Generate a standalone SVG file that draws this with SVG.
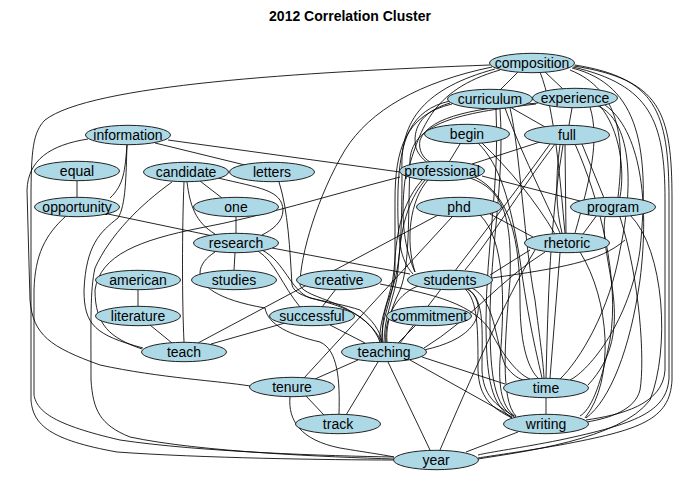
<svg xmlns="http://www.w3.org/2000/svg" width="700" height="500" viewBox="0 0 700 500">
<style>
.e{fill:none;stroke:#000;stroke-width:0.85}
.n ellipse{fill:#add8e6;stroke:#222;stroke-width:1}
.n text{font-family:"Liberation Sans",Arial,sans-serif;font-size:14px;text-anchor:middle;fill:#000}
.title{font-family:"Liberation Sans",Arial,sans-serif;font-size:14px;font-weight:bold;text-anchor:middle}
</style>
<rect width="700" height="500" fill="#fff"/>
<text class="title" x="350" y="21">2012 Correlation Cluster</text>
<g id="edges">
<path class="e" d="M490,65 C300,72 90,85 45,120 C33,132 31,150 31,200 L31,400 C33,425 50,440 117,452 C200,458 330,460 394,460"/>
<path class="e" d="M66,216 C45,235 35,255 34,290 L34,395 C37,412 55,425 120,440 C200,452 330,456 394,457"/>
<path class="e" d="M88,139 C50,145 28,160 27,190 L30,300 C33,335 50,347 100,365 C160,378 220,381 250,386"/>
<path class="e" d="M127,145 C126,175 126,205 118,218 C100,232 86,245 84,290 C84,325 95,335 143,348"/>
<path class="e" d="M172,182 C140,205 110,235 95,268 C90,290 91,320 91,380 C93,410 100,425 130,437 C200,452 330,457 394,459"/>
<path class="e" d="M400,177 C330,195 260,217 200,228 C140,240 100,255 95,290 C95,325 110,338 142,349"/>
<path class="e" d="M77,181 L77,197"/>
<path class="e" d="M155,143 L245,165"/>
<path class="e" d="M168,140 L400,172"/>
<path class="e" d="M127,145 C125,170 124,185 110,198"/>
<path class="e" d="M108,214 L213,236"/>
<path class="e" d="M200,181 L222,198"/>
<path class="e" d="M236,217 L236,233"/>
<path class="e" d="M235,253 L234,270"/>
<path class="e" d="M272,248 L410,274"/>
<path class="e" d="M138,290 L138,306"/>
<path class="e" d="M150,325 L172,343"/>
<path class="e" d="M285,323 L211,344"/>
<path class="e" d="M336,289 L322,307"/>
<path class="e" d="M330,325 L365,343"/>
<path class="e" d="M416,325 L398,343"/>
<path class="e" d="M358,360 L315,379"/>
<path class="e" d="M378,362 L346,415"/>
<path class="e" d="M388,362 L430,450"/>
<path class="e" d="M422,357 L505,384"/>
<path class="e" d="M410,360 L512,417"/>
<path class="e" d="M306,396 L324,415"/>
<path class="e" d="M290,397 C288,420 300,440 340,448 C370,453 385,455 394,457"/>
<path class="e" d="M546,398 L546,414"/>
<path class="e" d="M518,432 L466,452"/>
<path class="e" d="M184,182 C182,230 182,300 184,342"/>
<path class="e" d="M187,182 C190,205 195,222 215,234"/>
<path class="e" d="M218,178 C260,188 282,190 283,210 C283,222 272,230 262,235"/>
<path class="e" d="M279,182 C288,210 290,250 292,285 C296,300 330,300 360,310 C372,320 380,330 382,342"/>
<path class="e" d="M262,250 C285,262 290,290 310,298 C340,305 370,315 380,342"/>
<path class="e" d="M258,251 C275,262 282,285 300,307"/>
<path class="e" d="M215,252 C190,268 190,295 265,308 C268,325 290,335 320,342 C338,350 340,380 339,414"/>
<path class="e" d="M452,217 L304,378"/>
<path class="e" d="M440,214 L198,343"/>
<path class="e" d="M492,67 C420,82 370,110 345,150 C318,195 300,255 300,285 C305,300 360,300 382,342"/>
<path class="e" d="M380,284 C420,292 470,300 490,330 C505,360 520,375 530,379"/>
<path class="e" d="M518,72 L500,90"/>
<path class="e" d="M545,72 L563,89"/>
<path class="e" d="M510,107 L545,127"/>
<path class="e" d="M572,108 L569,125"/>
<path class="e" d="M460,144 L449,162"/>
<path class="e" d="M540,142 L472,164"/>
<path class="e" d="M482,176 L580,201"/>
<path class="e" d="M490,214 L533,237"/>
<path class="e" d="M597,215 L583,234"/>
<path class="e" d="M582,144 L604,198"/>
<path class="e" d="M540,72 C555,110 560,180 565,233"/>
<path class="e" d="M570,70 C620,90 625,140 618,197"/>
<path class="e" d="M572,68 C640,85 650,150 640,250 C630,320 590,370 570,380"/>
<path class="e" d="M573,67 C650,85 665,120 665,200 L665,370 C663,405 620,415 586,420"/>
<path class="e" d="M574,66 C660,80 672,110 672,200 L672,380 C670,420 640,430 560,445 C520,452 490,456 478,458"/>
<path class="e" d="M575,65 C655,78 669,110 669,200 L669,378 C667,412 635,424 560,440 C520,448 490,452 478,455"/>
<path class="e" d="M500,70 C430,90 420,130 405,180 C400,220 405,250 415,272"/>
<path class="e" d="M495,69 C425,88 400,120 402,170 C402,240 400,270 390,295 C382,315 382,330 383,342"/>
<path class="e" d="M450,101 C410,110 400,140 398,190 C397,240 400,260 413,274"/>
<path class="e" d="M452,104 C405,115 395,150 395,200 L395,270 C393,300 380,320 382,342"/>
<path class="e" d="M505,108 C520,150 545,200 560,233"/>
<path class="e" d="M510,108 C520,150 525,250 535,300 C540,340 543,360 544,378"/>
<path class="e" d="M500,109 C505,180 490,250 490,320 C490,380 495,405 514,417"/>
<path class="e" d="M496,109 C500,180 486,250 486,320 C486,382 492,405 512,418"/>
<path class="e" d="M590,107 C600,140 590,180 575,233"/>
<path class="e" d="M600,106 C620,130 625,170 620,197"/>
<path class="e" d="M605,105 C640,130 650,200 640,280 C630,350 610,400 586,418"/>
<path class="e" d="M598,106 C630,120 635,180 620,250 C610,310 580,360 560,379"/>
<path class="e" d="M538,103 C480,108 430,115 420,140 C418,150 423,158 430,162"/>
<path class="e" d="M536,104 C470,112 412,120 410,160 C408,220 410,265 400,290 C388,315 386,330 387,342"/>
<path class="e" d="M450,103 C420,112 412,130 416,148 C419,156 424,160 428,163"/>
<path class="e" d="M565,145 L566,233"/>
<path class="e" d="M560,145 C555,180 556,210 562,233"/>
<path class="e" d="M555,144 C520,190 490,240 465,270"/>
<path class="e" d="M550,144 C510,200 440,290 400,343"/>
<path class="e" d="M563,145 C550,220 548,300 546,378"/>
<path class="e" d="M575,144 C600,200 620,280 610,340 C600,390 590,410 580,416"/>
<path class="e" d="M428,180 C410,200 405,240 415,272"/>
<path class="e" d="M425,180 C400,210 400,250 398,270 C396,295 382,320 385,342"/>
<path class="e" d="M422,180 C396,210 396,250 394,270 C392,295 378,320 380,342"/>
<path class="e" d="M470,178 C505,190 512,220 510,280 C505,340 500,400 516,416"/>
<path class="e" d="M475,177 C510,195 520,240 520,300 C520,350 530,370 538,378"/>
<path class="e" d="M478,143 C500,165 510,200 520,260 C528,320 538,360 542,378"/>
<path class="e" d="M482,143 C510,170 535,200 555,234"/>
<path class="e" d="M480,215 C505,240 505,300 500,360 C498,395 505,410 516,417"/>
<path class="e" d="M530,250 L490,275"/>
<path class="e" d="M545,252 C500,280 470,320 424,348"/>
<path class="e" d="M560,253 L550,378"/>
<path class="e" d="M580,252 C610,300 615,380 585,418"/>
<path class="e" d="M535,250 C505,300 470,380 440,450"/>
<path class="e" d="M605,217 C598,260 640,330 588,385"/>
<path class="e" d="M620,217 C640,280 645,360 640,390 C635,410 610,418 587,422"/>
<path class="e" d="M630,215 C665,250 670,350 650,400 C620,440 520,452 478,459"/>
<path class="e" d="M492,278 C560,268 600,262 625,240"/>
<path class="e" d="M424,350 C470,340 480,320 478,305 C476,295 470,290 466,289"/>
<path class="e" d="M418,286 C395,295 384,320 386,342"/>
<path class="e" d="M468,289 C485,300 482,330 482,370 C483,395 495,405 514,416"/>
<path class="e" d="M472,288 C495,300 495,340 505,365 C512,375 520,380 525,380"/>
<path class="e" d="M465,289 C478,300 478,330 478,370 C479,398 492,408 512,418"/>
</g>
<g id="node-composition" class="n"><ellipse cx="532" cy="63" rx="42.5" ry="9.7"/><text x="532" y="68">composition</text></g>
<g id="node-curriculum" class="n"><ellipse cx="490" cy="99" rx="42.5" ry="9.7"/><text x="490" y="104">curriculum</text></g>
<g id="node-experience" class="n"><ellipse cx="575" cy="98" rx="42.5" ry="9.7"/><text x="575" y="103">experience</text></g>
<g id="node-information" class="n"><ellipse cx="128" cy="135" rx="42.5" ry="9.7"/><text x="128" y="140">information</text></g>
<g id="node-begin" class="n"><ellipse cx="467" cy="134" rx="42.5" ry="9.7"/><text x="467" y="139">begin</text></g>
<g id="node-full" class="n"><ellipse cx="567" cy="135" rx="42.5" ry="9.7"/><text x="567" y="140">full</text></g>
<g id="node-equal" class="n"><ellipse cx="77" cy="171" rx="42.5" ry="9.7"/><text x="77" y="176">equal</text></g>
<g id="node-candidate" class="n"><ellipse cx="186" cy="172" rx="42.5" ry="9.7"/><text x="186" y="177">candidate</text></g>
<g id="node-letters" class="n"><ellipse cx="272" cy="172" rx="42.5" ry="9.7"/><text x="272" y="177">letters</text></g>
<g id="node-professional" class="n"><ellipse cx="442" cy="171" rx="42.5" ry="9.7"/><text x="442" y="176">professional</text></g>
<g id="node-one" class="n"><ellipse cx="236" cy="207" rx="42.5" ry="9.7"/><text x="236" y="212">one</text></g>
<g id="node-opportunity" class="n"><ellipse cx="77" cy="207" rx="42.5" ry="9.7"/><text x="77" y="212">opportunity</text></g>
<g id="node-phd" class="n"><ellipse cx="459" cy="207" rx="42.5" ry="9.7"/><text x="459" y="212">phd</text></g>
<g id="node-program" class="n"><ellipse cx="613" cy="207" rx="42.5" ry="9.7"/><text x="613" y="212">program</text></g>
<g id="node-research" class="n"><ellipse cx="236" cy="243" rx="42.5" ry="9.7"/><text x="236" y="248">research</text></g>
<g id="node-rhetoric" class="n"><ellipse cx="567" cy="243" rx="42.5" ry="9.7"/><text x="567" y="248">rhetoric</text></g>
<g id="node-american" class="n"><ellipse cx="138" cy="280" rx="42.5" ry="9.7"/><text x="138" y="285">american</text></g>
<g id="node-studies" class="n"><ellipse cx="234" cy="280" rx="42.5" ry="9.7"/><text x="234" y="285">studies</text></g>
<g id="node-creative" class="n"><ellipse cx="339" cy="280" rx="42.5" ry="9.7"/><text x="339" y="285">creative</text></g>
<g id="node-students" class="n"><ellipse cx="450" cy="280" rx="42.5" ry="9.7"/><text x="450" y="285">students</text></g>
<g id="node-literature" class="n"><ellipse cx="138" cy="316" rx="42.5" ry="9.7"/><text x="138" y="321">literature</text></g>
<g id="node-successful" class="n"><ellipse cx="312" cy="316" rx="42.5" ry="9.7"/><text x="312" y="321">successful</text></g>
<g id="node-commitment" class="n"><ellipse cx="429" cy="316" rx="42.5" ry="9.7"/><text x="429" y="321">commitment</text></g>
<g id="node-teaching" class="n"><ellipse cx="384" cy="352" rx="42.5" ry="9.7"/><text x="384" y="357">teaching</text></g>
<g id="node-teach" class="n"><ellipse cx="184" cy="352" rx="42.5" ry="9.7"/><text x="184" y="357">teach</text></g>
<g id="node-tenure" class="n"><ellipse cx="292" cy="387" rx="42.5" ry="9.7"/><text x="292" y="392">tenure</text></g>
<g id="node-time" class="n"><ellipse cx="546" cy="388" rx="42.5" ry="9.7"/><text x="546" y="393">time</text></g>
<g id="node-track" class="n"><ellipse cx="338" cy="424" rx="42.5" ry="9.7"/><text x="338" y="429">track</text></g>
<g id="node-writing" class="n"><ellipse cx="546" cy="424" rx="42.5" ry="9.7"/><text x="546" y="429">writing</text></g>
<g id="node-year" class="n"><ellipse cx="436" cy="460" rx="42.5" ry="9.7"/><text x="436" y="465">year</text></g>
</svg>
